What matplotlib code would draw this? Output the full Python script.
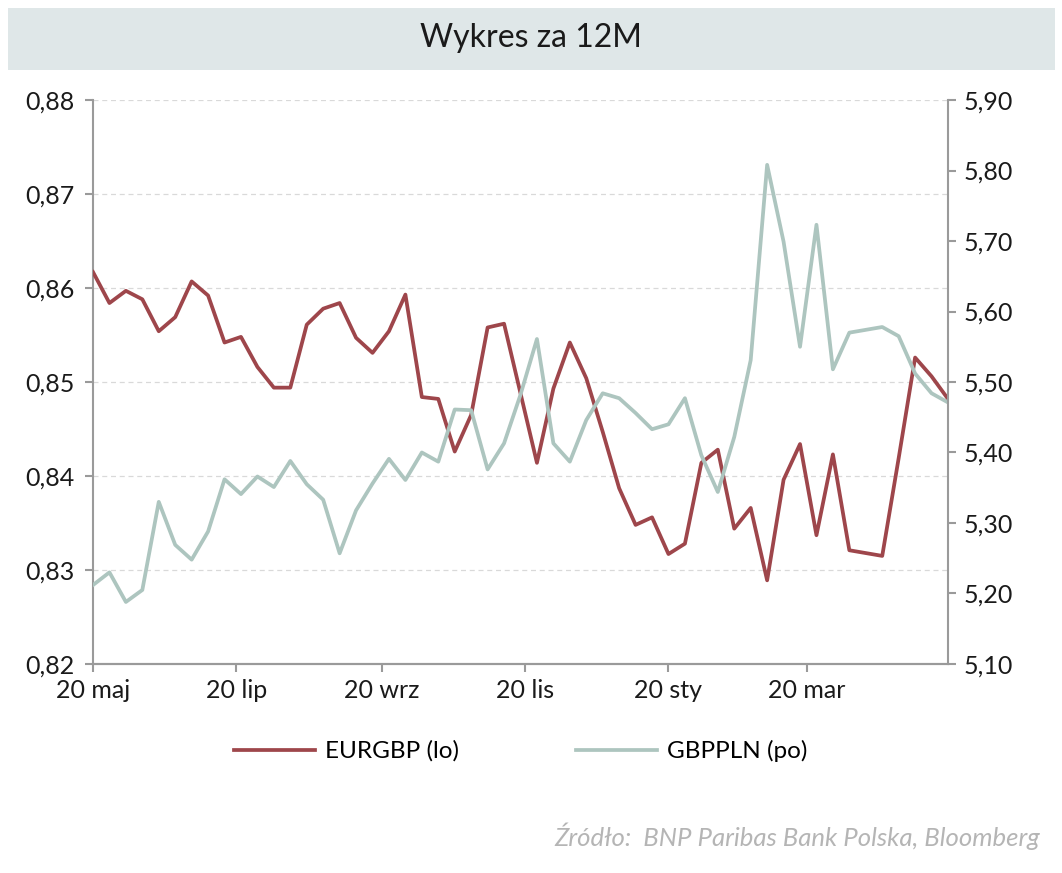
import pandas as pd
import matplotlib.pyplot as plt
from matplotlib.patches import Rectangle
from matplotlib.ticker import FuncFormatter

plt.rcParams['font.family'] = ['Lato', 'DejaVu Sans']

# weekly data, 20 maj -> 19 maj
dates = pd.date_range('2024-05-20', periods=53, freq='7D')

eurgbp = [0.8617, 0.8584, 0.8597, 0.8588, 0.8554, 0.8569, 0.8607, 0.8592, 0.8542, 0.8548,
          0.8516, 0.8494, 0.8494, 0.8561, 0.8578, 0.8584, 0.8547, 0.8531, 0.8554, 0.8593,
          0.8484, 0.8482, 0.8426, 0.8465, 0.8558, 0.8562, 0.8488, 0.8414, 0.8493, 0.8542,
          0.8504, 0.8447, 0.8387, 0.8348, 0.8356, 0.8317, 0.8328, 0.8414, 0.8428, 0.8344,
          0.8366, 0.8289, 0.8396, 0.8434, 0.8337, 0.8423, 0.8321, 0.8318, 0.8315, 0.8419,
          0.8526, 0.8506, 0.8482]

gbppln = [5.212, 5.230, 5.188, 5.205, 5.330, 5.269, 5.248, 5.288, 5.362, 5.341,
          5.366, 5.351, 5.388, 5.355, 5.333, 5.257, 5.318, 5.356, 5.391, 5.361,
          5.400, 5.387, 5.461, 5.460, 5.376, 5.413, 5.482, 5.561, 5.413, 5.387,
          5.446, 5.484, 5.477, 5.456, 5.433, 5.440, 5.477, 5.396, 5.344, 5.422,
          5.531, 5.808, 5.699, 5.550, 5.723, 5.518, 5.570, 5.574, 5.578, 5.565,
          5.512, 5.484, 5.471]

tick_dates = pd.to_datetime(['2024-05-20', '2024-07-20', '2024-09-20',
                             '2024-11-20', '2025-01-20', '2025-03-20'])
tick_labels = ['20 maj', '20 lip', '20 wrz', '20 lis', '20 sty', '20 mar']

red = '#9e464b'
green = '#adc5bf'
axis_col = '#9a9a9a'

fig = plt.figure(figsize=(10.62, 8.73), dpi=100)

# title banner
fig.patches.append(Rectangle((8 / 1062, 1 - 70 / 873), 1047 / 1062, 62 / 873,
                             transform=fig.transFigure, facecolor='#dfe7e8',
                             edgecolor='none', zorder=0))
fig.text(0.5, 1 - 38 / 873, 'Wykres za 12M', ha='center', va='center',
         fontsize=23, color='#1a1a1a')

ax = fig.add_axes([93 / 1062, 1 - 664 / 873, 855 / 1062, 564 / 873])
ax2 = ax.twinx()

l1, = ax.plot(dates, eurgbp, color=red, lw=2.7, zorder=3)
l2, = ax2.plot(dates, gbppln, color=green, lw=2.7, zorder=2)

ax.set_ylim(0.82, 0.88)
ax2.set_ylim(5.10, 5.90)
ax.set_xlim(dates[0], dates[-1])

ax.set_yticks([0.82, 0.83, 0.84, 0.85, 0.86, 0.87, 0.88])
ax2.set_yticks([5.1, 5.2, 5.3, 5.4, 5.5, 5.6, 5.7, 5.8, 5.9])
comma = lambda fmt: FuncFormatter(lambda v, p: (fmt % v).replace('.', ','))
ax.yaxis.set_major_formatter(comma('%.2f'))
ax2.yaxis.set_major_formatter(comma('%.2f'))

ax.set_xticks(tick_dates)
ax.set_xticklabels(tick_labels)

ax.grid(axis='y', color='#d9d9d9', linestyle=(0, (4, 3)), lw=0.9)
ax.set_axisbelow(True)

for a in (ax, ax2):
    for s in a.spines.values():
        s.set_color(axis_col)
        s.set_linewidth(1.5)
    a.spines['top'].set_visible(False)
    a.tick_params(colors=axis_col, labelcolor='#1a1a1a', labelsize=18,
                  length=6, width=1.5, direction='out')
ax2.spines['left'].set_visible(False)
ax.spines['right'].set_visible(False)
ax.tick_params(axis='x', pad=5)
ax.tick_params(axis='y', pad=7)
ax2.tick_params(axis='y', pad=5)

fig.legend([l1, l2], ['EURGBP (lo)', 'GBPPLN (po)'], loc='center',
           bbox_to_anchor=(0.49, 1 - 751 / 873), ncol=2, frameon=False,
           fontsize=17.5, handlelength=3.35, handletextpad=0.4, columnspacing=4.8)

fig.text(1040 / 1062, 1 - 836 / 873, 'Źródło:  BNP Paribas Bank Polska, Bloomberg',
         ha='right', va='center', fontsize=18.5, style='italic', color='#b5b5b5')

fig.savefig('out.png', dpi=100)
